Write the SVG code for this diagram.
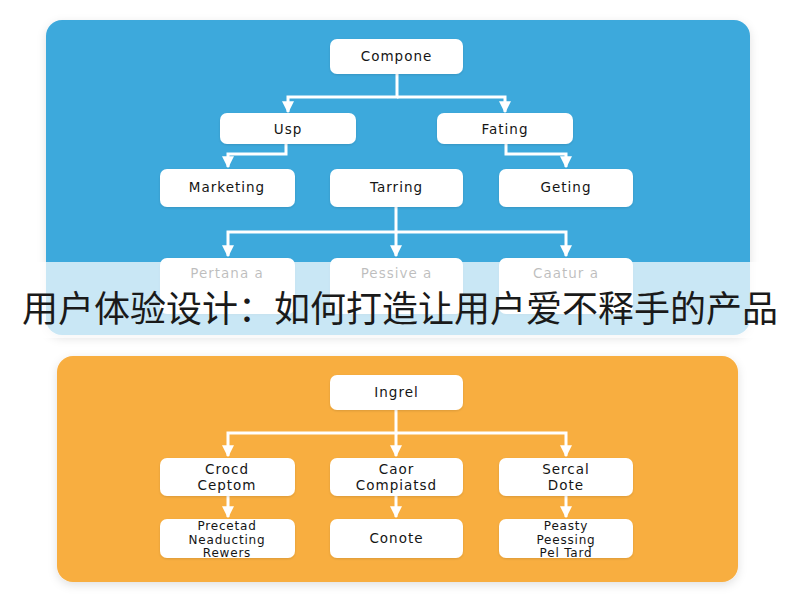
<svg xmlns="http://www.w3.org/2000/svg" width="800" height="600" viewBox="0 0 800 600">
  <defs>
    <filter id="sh" x="-10%" y="-10%" width="120%" height="125%">
      <feDropShadow dx="0" dy="3" stdDeviation="5" flood-color="#000" flood-opacity="0.12"/>
    </filter>
    <filter id="bs" x="-10%" y="-20%" width="120%" height="150%">
      <feDropShadow dx="0" dy="1" stdDeviation="1.2" flood-color="#000" flood-opacity="0.12"/>
    </filter>
    <marker id="ah" viewBox="0 0 10 10" refX="9" refY="5" markerWidth="4" markerHeight="4" orient="auto" markerUnits="strokeWidth">
      <path d="M0,0 L10,5 L0,10 Z" fill="#ffffff"/>
    </marker>
    <style>
      .box { fill: #ffffff; filter: url(#bs); }
      .lbl { font-family: "DejaVu Sans", "Liberation Sans", sans-serif; font-size: 13.5px; letter-spacing: 1px; fill: #151515; text-anchor: middle; }
      .sm { font-size: 12px; letter-spacing: 0.8px; }
      .con { fill: none; stroke: #ffffff; stroke-width: 3; stroke-linejoin: miter; marker-end: url(#ah); }
      .title { font-family: "Noto Sans CJK SC", "Noto Sans CJK JP", sans-serif; font-size: 36px; fill: #1a1a1a; text-anchor: middle; }
    </style>
  </defs>

  <rect x="0" y="0" width="800" height="600" fill="#ffffff"/>

  <!-- panels -->
  <g id="panel-blue">
    <rect x="46" y="20" width="704" height="315" rx="16" fill="#3ea9dc" filter="url(#sh)"/>
  </g>
  <g id="panel-orange">
    <rect x="57" y="356" width="681" height="226" rx="16" fill="#f8ae40" filter="url(#sh)"/>
  </g>

  <!-- connectors -->
  <g id="connectors">
    <path class="con" d="M397,74 V97 H288 V112"/>
    <path class="con" d="M397,97 H505 V112"/>
    <path class="con" d="M286,144 V154 H228 V167"/>
    <path class="con" d="M506,144 V154 H566 V167"/>
    <path class="con" d="M396,207 V232 H228 V256"/>
    <path class="con" d="M396,232 V256"/>
    <path class="con" d="M396,232 H566 V256"/>

    <path class="con" d="M396,410 V433 H228 V456"/>
    <path class="con" d="M396,433 V456"/>
    <path class="con" d="M396,433 H566 V456"/>
    <path class="con" d="M228,496 V517"/>
    <path class="con" d="M396,496 V517"/>
    <path class="con" d="M566,496 V517"/>
  </g>

  <!-- blue nodes -->
  <g id="n-compone"><rect class="box" x="330" y="39" width="133" height="35" rx="7"/><text class="lbl" x="396.5" y="61">Compone</text></g>
  <g id="n-usp"><rect class="box" x="220" y="113" width="136" height="31" rx="7"/><text class="lbl" x="288" y="134">Usp</text></g>
  <g id="n-fating"><rect class="box" x="437" y="113" width="136" height="31" rx="7"/><text class="lbl" x="505" y="134">Fating</text></g>
  <g id="n-marketing"><rect class="box" x="160" y="169" width="135" height="38" rx="7"/><text class="lbl" x="227" y="192">Marketing</text></g>
  <g id="n-tarring"><rect class="box" x="330" y="169" width="133" height="38" rx="7"/><text class="lbl" x="396.5" y="192">Tarring</text></g>
  <g id="n-geting"><rect class="box" x="499" y="169" width="134" height="38" rx="7"/><text class="lbl" x="566" y="192">Geting</text></g>
  <g id="n-pertana"><rect class="box" x="160" y="258" width="135" height="56" rx="7"/><text class="lbl" x="227" y="278">Pertana a</text></g>
  <g id="n-pessive"><rect class="box" x="330" y="258" width="133" height="56" rx="7"/><text class="lbl" x="396.5" y="278">Pessive a</text></g>
  <g id="n-caatur"><rect class="box" x="499" y="258" width="134" height="56" rx="7"/><text class="lbl" x="566" y="278">Caatur a</text></g>

  <!-- orange nodes -->
  <g id="n-ingrel"><rect class="box" x="330" y="375" width="133" height="35" rx="7"/><text class="lbl" x="396.5" y="397">Ingrel</text></g>
  <g id="n-crocd"><rect class="box" x="160" y="458" width="135" height="38" rx="7"/><text class="lbl" x="227" y="474">Crocd</text><text class="lbl" x="227" y="490">Ceptom</text></g>
  <g id="n-caor"><rect class="box" x="330" y="458" width="133" height="38" rx="7"/><text class="lbl" x="396.5" y="474">Caor</text><text class="lbl" x="396.5" y="490">Compiatsd</text></g>
  <g id="n-sercal"><rect class="box" x="499" y="458" width="134" height="38" rx="7"/><text class="lbl" x="566" y="474">Sercal</text><text class="lbl" x="566" y="490">Dote</text></g>
  <g id="n-precetad"><rect class="box" x="160" y="519" width="135" height="39" rx="7"/><text class="lbl sm" x="227" y="530">Precetad</text><text class="lbl sm" x="227" y="543.5">Neaducting</text><text class="lbl sm" x="227" y="557">Rewers</text></g>
  <g id="n-conote"><rect class="box" x="330" y="519" width="133" height="39" rx="7"/><text class="lbl" x="396.5" y="543">Conote</text></g>
  <g id="n-peasty"><rect class="box" x="499" y="519" width="134" height="39" rx="7"/><text class="lbl sm" x="566" y="530">Peasty</text><text class="lbl sm" x="566" y="543.5">Peessing</text><text class="lbl sm" x="566" y="557">Pel Tard</text></g>

  <!-- title banner -->
  <g id="banner">
    <rect x="0" y="262" width="800" height="76" fill="#ffffff" fill-opacity="0.72"/>
    <text class="title" x="400" y="322">用户体验设计：如何打造让用户爱不释手的产品</text>
  </g>
</svg>
